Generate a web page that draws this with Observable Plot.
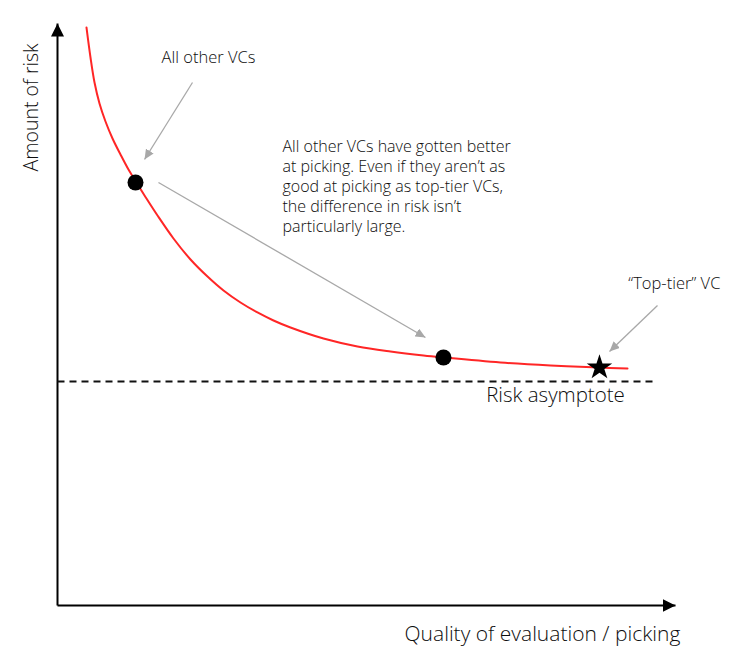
<!DOCTYPE html>
<html>
<head>
<meta charset="utf-8">
<script src="https://cdn.jsdelivr.net/npm/d3@7"></script>
<script src="https://cdn.jsdelivr.net/npm/@observablehq/plot@0.6"></script>
<style>
  html, body { margin: 0; padding: 0; background: #fff; }
</style>
</head>
<body>
<div id="chart"></div>
<script>
// ---- Data (abstract units: x = quality of picking, y = amount of risk) ----
const curveX = [4.83, 5.5, 6.17, 7.0, 8.0, 9.17, 10.5, 11.83, 13.17, 14.83, 16.67, 19.33, 22.17, 25.0, 27.67, 30.5, 33.33, 36.0, 38.83, 44.33, 50.0, 55.5, 61.0, 64.33, 73.83, 82.17, 90.33, 95.0];
const curveY = [99.66, 94.48, 90.17, 86.55, 83.45, 80.52, 77.76, 75.17, 72.93, 70.17, 67.24, 63.28, 59.66, 56.72, 54.31, 52.24, 50.52, 49.14, 47.93, 46.03, 44.66, 43.79, 43.10, 42.76, 41.90, 41.38, 41.03, 40.86];

const pointNames = ["All other VCs (before)", "All other VCs (now)"];
const pointX = [13.0, 64.33];
const pointY = [72.93, 42.76];

const starX = [90.33];
const starY = [41.03];

const asymptoteX = [0, 99.17];
const asymptoteY = 38.62;

const axisEndX = 103;
const axisEndY = 100.34;

// annotation arrows: start -> end
const arrowX1 = [22.5, 16.83, 100.0];
const arrowY1 = [90.17, 72.93, 51.72];
const arrowX2 = [14.5, 61.33, 92.0];
const arrowY2 = [76.9, 46.21, 43.79];

const noteTexts = [
  "All other VCs",
  "All other VCs have gotten better\nat picking. Even if they aren’t as\ngood at picking as top-tier VCs,\nthe difference in risk isn’t\nparticularly large.",
  "“Top-tier” VC"
];
const noteX = [25.17, 37.5, 102.8];
const noteY = [94.48, 72.41, 55.52];
const noteAnchor = ["middle", "start", "middle"];

const asymptoteLabel = "Risk asymptote";
const asymptoteLabelX = 83.0;
const asymptoteLabelY = 36.2;

const xLabel = "Quality of evaluation / picking";
const xLabelPos = [80.83, -5.0];
const yLabel = "Amount of risk";
const yLabelPos = [-4.33, 85.86];

// ---- Tables built from the arrays ----
const curve = curveX.map((x, i) => ({x, y: curveY[i]}));
const points = pointX.map((x, i) => ({name: pointNames[i], x, y: pointY[i]}));
const stars = starX.map((x, i) => ({x, y: starY[i]}));
const arrows = arrowX1.map((x1, i) => ({x1, y1: arrowY1[i], x2: arrowX2[i], y2: arrowY2[i]}));
const notes = noteTexts.map((t, i) => ({t, x: noteX[i], y: noteY[i], a: noteAnchor[i]}));
const axes = [
  {x1: 0, y1: 0, x2: axisEndX, y2: 0},
  {x1: 0, y1: 0, x2: 0, y2: axisEndY}
];

const FONT = "'Open Sans', Lato, sans-serif";
const AXIS_COLOR = "#000000";
const GRAY = "#a8a8a8";
const TEXT = "#0d0d0d";

const chart = Plot.plot({
  width: 733,
  height: 663,
  margin: 0,
  x: {domain: [0, 100], range: [57, 657], axis: null},
  y: {domain: [0, 100], range: [605, 25], axis: null},
  style: {fontFamily: FONT, background: "#fff", color: "#111"},
  marks: [
    // axes
    Plot.link(axes, {x1: "x1", y1: "y1", x2: "x2", y2: "y2", stroke: AXIS_COLOR, strokeWidth: 2}),
    // asymptote
    Plot.link([{}], {x1: asymptoteX[0], x2: asymptoteX[1], y1: asymptoteY, y2: asymptoteY, stroke: "#111", strokeWidth: 2, strokeDasharray: "7,5"}),
    // curve
    Plot.line(curve, {x: "x", y: "y", stroke: "#ff2626", strokeWidth: 2, curve: "catmull-rom"}),
    // annotation arrows
    Plot.link(arrows, {x1: "x1", y1: "y1", x2: "x2", y2: "y2", stroke: GRAY, strokeWidth: 1.3}),
    // points
    Plot.dot(points, {x: "x", y: "y", r: 8, fill: "#000"}),
    Plot.dot(stars, {x: "x", y: "y", r: 8, symbol: "star", fill: "#000"}),
    // notes
    Plot.text(notes.filter(d => d.a === "middle"), {x: "x", y: "y", text: "t", textAnchor: "middle", fontSize: 16.5, fill: TEXT, fontWeight: 300}),
    Plot.text(notes.filter(d => d.a === "start"), {x: "x", y: "y", text: "t", textAnchor: "start", lineAnchor: "middle", lineHeight: 1.25, fontSize: 16, fill: TEXT, fontWeight: 300}),
    Plot.text([asymptoteLabel], {x: asymptoteLabelX, y: asymptoteLabelY, text: d => d, fontSize: 20.5, fill: TEXT, fontWeight: 300}),
    Plot.text([xLabel], {x: xLabelPos[0], y: xLabelPos[1], text: d => d, fontSize: 21, fill: TEXT, fontWeight: 300}),
    Plot.text([yLabel], {x: yLabelPos[0], y: yLabelPos[1], text: d => d, fontSize: 19.5, fill: TEXT, fontWeight: 300, rotate: -90})
  ]
});

// filled triangular arrowheads
const ns = "http://www.w3.org/2000/svg";
const defs = document.createElementNS(ns, "defs");
function makeMarker(id, color, len, wid) {
  const m = document.createElementNS(ns, "marker");
  m.setAttribute("id", id);
  m.setAttribute("viewBox", `0 0 ${len} ${wid}`);
  m.setAttribute("refX", len);
  m.setAttribute("refY", wid / 2);
  m.setAttribute("markerWidth", len);
  m.setAttribute("markerHeight", wid);
  m.setAttribute("markerUnits", "userSpaceOnUse");
  m.setAttribute("orient", "auto");
  const p = document.createElementNS(ns, "path");
  p.setAttribute("d", `M0,0L${len},${wid / 2}L0,${wid}Z`);
  p.setAttribute("fill", color);
  m.appendChild(p);
  defs.appendChild(m);
}
makeMarker("head-black", "#000", 13, 13);
makeMarker("head-gray", GRAY, 10, 9);
chart.insertBefore(defs, chart.firstChild);
chart.querySelectorAll("g").forEach(g => {
  const s = (g.getAttribute("stroke") || "").toLowerCase();
  if (s === AXIS_COLOR) g.querySelectorAll("path, line").forEach(el => el.setAttribute("marker-end", "url(#head-black)"));
  if (s === GRAY) g.querySelectorAll("path, line").forEach(el => el.setAttribute("marker-end", "url(#head-gray)"));
});

document.getElementById("chart").appendChild(chart);
</script>
</body>
</html>
